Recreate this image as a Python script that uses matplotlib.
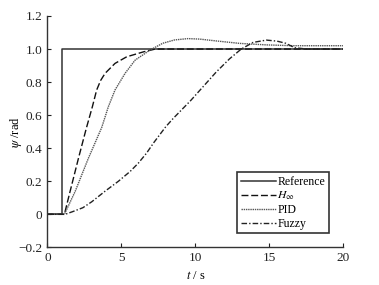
import numpy as np
import matplotlib
matplotlib.use("Agg")
from matplotlib import pyplot as plt

plt.rcParams['font.family'] = ['Liberation Serif', 'DejaVu Serif']
plt.rcParams['mathtext.fontset'] = 'stix'

# values
ref_t = [0, 1.0, 1.0, 20]
ref_v = [0, 0, 1.0, 1.0]

hinf_t = [0, 1.0, 1.15, 1.53, 2.1, 2.63, 3.04, 3.33, 3.6, 3.9, 4.57, 5.36, 6.5, 7.3, 20]
hinf_v = [0, 0, 0, 0.137, 0.339, 0.52, 0.651, 0.752, 0.81, 0.853, 0.913, 0.953, 0.983, 1.0, 1.0]

pid_t = [0, 1.0, 1.15, 1.87, 2.77, 3.67, 4.12, 4.57, 5.25, 5.93, 6.94, 7.8, 8.6, 9.5,
         10.3, 11.5, 13.0, 14.8, 16.6, 20]
pid_v = [0, 0, 0, 0.137, 0.339, 0.525, 0.651, 0.752, 0.853, 0.933, 0.994, 1.035, 1.055, 1.063,
         1.06, 1.048, 1.034, 1.025, 1.02, 1.02]

fuzzy_t = [0, 1.0, 1.2, 1.7, 2.4, 3.0, 3.9, 4.8, 5.6, 6.15, 6.7, 7.2, 8.0, 8.5, 8.85, 9.7,
           10.5, 11.4, 12.3, 13.1, 13.9, 14.8, 15.5, 16.1, 16.7, 17.5, 20]
fuzzy_v = [0, 0, 0, 0.016, 0.04, 0.076, 0.14, 0.2, 0.26, 0.31, 0.37, 0.435, 0.53, 0.58, 0.612,
           0.69, 0.77, 0.86, 0.94, 1.0, 1.04, 1.054, 1.048, 1.035, 1.008, 1.0, 1.0]

labels = ['Reference', r'$H_\infty$', 'PID', 'Fuzzy']

fig = plt.figure(figsize=(3.79, 2.85), dpi=100)
ax = fig.add_axes([0.125, 0.132, 0.781, 0.812])

ax.plot(ref_t, ref_v, color='#333333', lw=1.1, label=labels[0])
ax.plot(hinf_t, hinf_v, color='#111111', lw=1.0, dashes=(5, 2), label=labels[1])
ax.plot(pid_t, pid_v, color='#555555', lw=1.0, dashes=(1, 0.6), label=labels[2])
ax.plot(fuzzy_t, fuzzy_v, color='#222222', lw=1.0, dashes=(4, 1.5, 1, 1.5), label=labels[3])

ax.set_xlim(0, 20)
ax.set_ylim(-0.2, 1.2)
ax.set_xticks([0, 5, 10, 15, 20])
ax.set_xticklabels(['0', '5', '10', '15', '20'])
ax.set_yticks([-0.2, 0, 0.2, 0.4, 0.6, 0.8, 1.0, 1.2])
ax.set_yticklabels(['\u22120.2', '0', '0.2', '0.4', '0.6', '0.8', '1.0', '1.2'])
ax.tick_params(direction='in', length=3, width=0.8, labelsize=9.5, colors='#222222')

for s in ['top', 'right']:
    ax.spines[s].set_visible(False)
for s in ['left', 'bottom']:
    ax.spines[s].set_linewidth(1.0)
    ax.spines[s].set_color('#333333')

ax.set_xlabel(r'$t$ / s', fontsize=9, labelpad=4)
ax.set_ylabel(r'$\psi$ /rad', fontsize=9)
ax.yaxis.set_label_coords(-0.08, 0.5)

leg = ax.legend(loc='lower right', bbox_to_anchor=(0.97, 0.035), fontsize=8.5,
                handlelength=3.0, handletextpad=0.1, labelspacing=0.15,
                borderpad=0.3, fancybox=False, framealpha=1)
leg.get_frame().set_edgecolor('#333333')
leg.get_frame().set_linewidth(1.2)

fig.savefig('out.png', dpi=100)
